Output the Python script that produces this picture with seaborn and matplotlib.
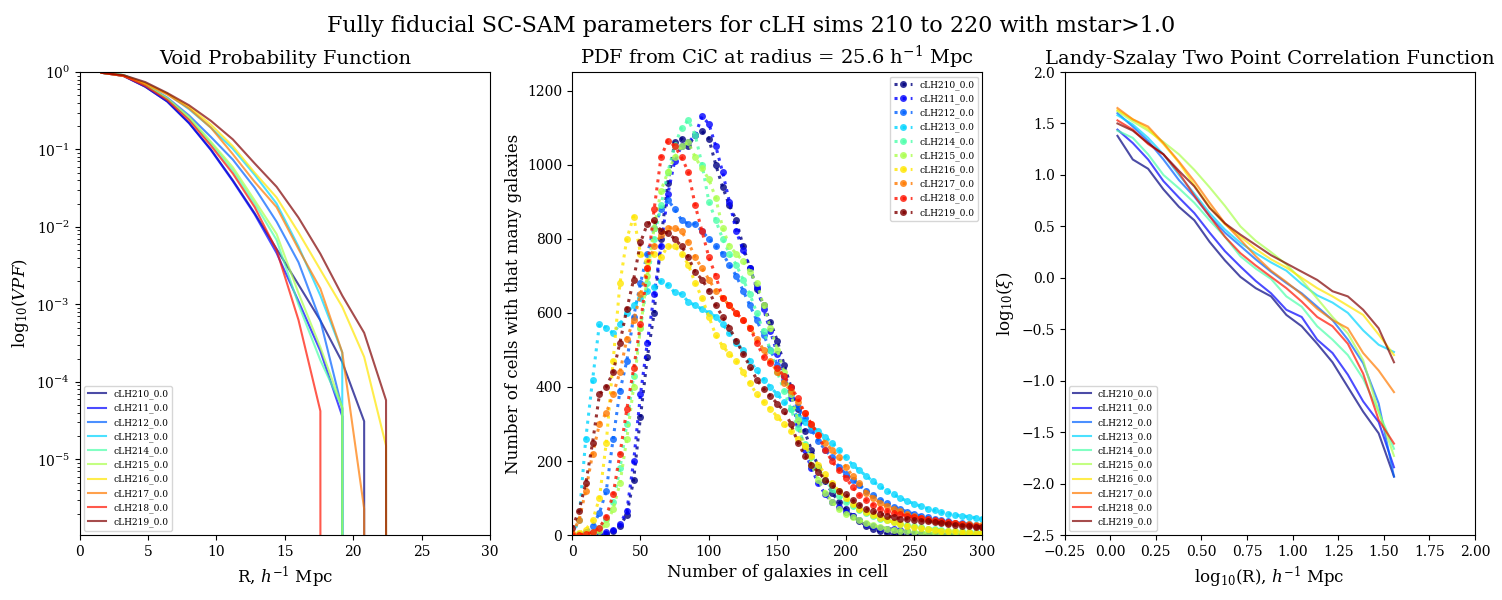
import matplotlib

matplotlib.use("Agg")
import matplotlib.pyplot as plt
import seaborn as sns

plt.rcParams["font.family"] = ["DejaVu Serif"]
plt.rcParams["mathtext.fontset"] = "dejavuserif"

sims = ["cLH210_0.0", "cLH211_0.0", "cLH212_0.0", "cLH213_0.0", "cLH214_0.0",
        "cLH215_0.0", "cLH216_0.0", "cLH217_0.0", "cLH218_0.0", "cLH219_0.0"]

# --- void probability function (0 = no voids of that size)
vpf_r = [1.6, 3.2, 4.8, 6.4, 8.0, 9.6, 11.2, 12.8, 14.4, 16.0, 17.6, 19.2, 20.8, 22.4, 24.0]
vpf_210 = [0.977, 0.891, 0.646, 0.417, 0.219, 0.100, 0.040, 0.015, 5.2e-3, 1.8e-3, 6.2e-4, 1.8e-4, 3.1e-5, 0, 0]
vpf_211 = [0.977, 0.891, 0.646, 0.417, 0.219, 0.098, 0.039, 0.0145, 4.6e-3, 1.1e-3, 2.5e-4, 3.6e-5, 0, 0, 0]
vpf_212 = [0.977, 0.912, 0.692, 0.468, 0.275, 0.145, 0.074, 0.032, 0.0117, 3.5e-3, 6.2e-4, 4.5e-5, 0, 0, 0]
vpf_213 = [0.977, 0.912, 0.724, 0.525, 0.331, 0.191, 0.102, 0.047, 0.020, 5.6e-3, 1.3e-3, 2.4e-4, 0, 0, 0]
vpf_214 = [0.977, 0.912, 0.676, 0.447, 0.251, 0.120, 0.054, 0.020, 6.8e-3, 1.0e-3, 1.9e-4, 4.7e-5, 0, 0, 0]
vpf_215 = [0.977, 0.912, 0.692, 0.457, 0.263, 0.126, 0.059, 0.022, 8.1e-3, 1.4e-3, 2.8e-4, 4.7e-5, 0, 0, 0]
vpf_216 = [0.977, 0.891, 0.708, 0.525, 0.355, 0.209, 0.110, 0.050, 0.024, 8.5e-3, 2.8e-3, 9.3e-4, 2.1e-4, 1.5e-5, 0]
vpf_217 = [0.977, 0.891, 0.708, 0.513, 0.339, 0.191, 0.087, 0.038, 0.018, 5.2e-3, 1.6e-3, 2.4e-4, 2.3e-6, 0, 0]
vpf_218 = [0.977, 0.891, 0.661, 0.437, 0.240, 0.112, 0.049, 0.018, 5.0e-3, 6.3e-4, 4.2e-5, 0, 0, 0, 0]
vpf_219 = [0.977, 0.912, 0.741, 0.537, 0.372, 0.234, 0.135, 0.066, 0.033, 0.0132, 4.5e-3, 1.3e-3, 4.3e-4, 5.8e-5, 0]

# --- counts-in-cells PDF
n_gal = list(range(0, 305, 5))
cic_210 = [0, 0, 0, 0, 2, 4, 10, 25, 55, 150, 320, 480, 600, 800, 950, 1060, 1070, 1050, 1080, 1090,
           1070, 1000, 940, 890, 850, 780, 720, 665, 620, 575, 525, 460, 400, 340, 280, 230, 185, 145,
           115, 90, 70, 52, 38, 26, 17, 10, 6, 3, 2, 1, 0, 0, 0, 0, 0, 0, 0, 0, 0, 0, 0]
cic_211 = [0, 0, 0, 1, 3, 8, 15, 30, 65, 200, 380, 520, 650, 780, 920, 1010, 1050, 1060, 1080, 1130,
           1110, 1050, 980, 900, 820, 770, 720, 670, 610, 550, 490, 430, 370, 300, 230, 180, 140, 110,
           90, 75, 62, 52, 42, 30, 24, 20, 18, 16, 14, 10, 7, 5, 4, 3, 2, 2, 1, 1, 1, 0, 0]
cic_212 = [0, 2, 8, 25, 60, 120, 260, 390, 470, 590, 680, 760, 830, 880, 905, 880, 850, 840, 840, 820,
           800, 780, 760, 730, 700, 660, 620, 580, 540, 500, 460, 420, 380, 345, 315, 285, 255, 230,
           210, 185, 165, 150, 135, 120, 108, 96, 86, 77, 70, 63, 57, 52, 48, 44, 40, 37, 34, 32, 30, 28, 26]
cic_213 = [0, 40, 260, 420, 570, 560, 545, 570, 600, 620, 640, 660, 670, 685, 675, 655, 650, 630, 620, 610,
           600, 590, 570, 545, 520, 500, 470, 445, 420, 400, 380, 360, 340, 320, 305, 295, 280, 265,
           250, 230, 210, 190, 175, 160, 145, 132, 120, 110, 100, 92, 85, 78, 72, 67, 62, 58, 55, 52, 50, 47, 45]
cic_214 = [0, 0, 3, 8, 20, 45, 90, 180, 300, 430, 560, 680, 800, 890, 980, 1050, 1100, 1120, 1080, 1000,
           900, 850, 800, 760, 730, 690, 650, 600, 550, 500, 440, 390, 340, 290, 245, 210, 180, 150,
           125, 105, 90, 78, 68, 60, 52, 45, 40, 35, 30, 27, 24, 21, 18, 16, 14, 12, 11, 10, 9, 8, 7]
cic_215 = [0, 0, 2, 5, 12, 30, 70, 140, 260, 400, 560, 700, 830, 930, 980, 1020, 1050, 1060, 1020, 990,
           960, 910, 830, 780, 760, 740, 710, 680, 620, 560, 500, 440, 380, 310, 240, 190, 150, 115,
           90, 70, 58, 48, 40, 33, 27, 22, 18, 15, 12, 10, 8, 7, 6, 5, 4, 3, 3, 2, 2, 1, 1]
cic_216 = [2, 5, 15, 40, 100, 250, 470, 680, 800, 860, 760, 740, 760, 750, 780, 780, 760, 730, 680, 640,
           590, 540, 510, 490, 470, 440, 410, 380, 360, 340, 320, 300, 280, 260, 240, 215, 190, 165,
           140, 120, 100, 85, 72, 62, 54, 47, 40, 35, 30, 26, 22, 19, 16, 14, 12, 11, 10, 9, 8, 7, 6]
cic_217 = [5, 40, 120, 220, 300, 330, 380, 440, 530, 580, 650, 720, 780, 810, 830, 830, 820, 790, 750, 720,
           690, 660, 640, 620, 600, 580, 560, 530, 500, 470, 440, 410, 390, 360, 330, 300, 270, 250,
           230, 210, 185, 160, 140, 115, 100, 88, 78, 70, 64, 58, 52, 47, 42, 39, 36, 34, 32, 30, 29, 28, 27]
cic_218 = [0, 1, 3, 8, 20, 50, 110, 220, 340, 450, 570, 720, 880, 1020, 1065, 1050, 1020, 980, 890, 820,
           750, 700, 640, 620, 600, 580, 560, 520, 480, 465, 450, 430, 400, 370, 330, 300, 270, 230,
           200, 175, 155, 130, 108, 94, 82, 72, 65, 60, 56, 52, 49, 46, 44, 41, 38, 35, 32, 29, 27, 25, 22]
cic_219 = [20, 65, 140, 250, 380, 400, 440, 520, 610, 690, 790, 840, 850, 820, 815, 800, 780, 750, 710, 690,
           660, 620, 590, 560, 525, 490, 455, 420, 395, 375, 355, 335, 300, 250, 215, 190, 170, 150,
           135, 120, 110, 95, 82, 72, 64, 58, 53, 48, 45, 43, 41, 39, 37, 35, 32, 30, 28, 26, 25, 23, 22]

# --- Landy-Szalay 2PCF, log10(xi) vs log10(R)
log_r = [0.04, 0.124, 0.208, 0.292, 0.377, 0.461, 0.545, 0.629, 0.714, 0.798,
         0.882, 0.966, 1.050, 1.135, 1.219, 1.303, 1.387, 1.472, 1.556]
xi_210 = [1.38, 1.15, 1.06, 0.86, 0.69, 0.56, 0.35, 0.17, 0.01, -0.10, -0.18, -0.36, -0.47, -0.64, -0.82, -1.06, -1.30, -1.51, -1.93]
xi_211 = [1.44, 1.31, 1.15, 0.94, 0.78, 0.63, 0.44, 0.26, 0.11, -0.03, -0.15, -0.31, -0.38, -0.60, -0.73, -0.94, -1.20, -1.40, -1.84]
xi_212 = [1.60, 1.47, 1.33, 1.15, 0.95, 0.79, 0.60, 0.44, 0.31, 0.18, 0.06, -0.05, -0.15, -0.28, -0.41, -0.60, -0.83, -1.22, -1.93]
xi_213 = [1.58, 1.49, 1.36, 1.20, 1.00, 0.82, 0.63, 0.47, 0.34, 0.24, 0.15, 0.07, -0.06, -0.17, -0.24, -0.34, -0.51, -0.65, -0.72]
xi_214 = [1.43, 1.36, 1.20, 1.00, 0.87, 0.73, 0.56, 0.40, 0.21, 0.09, -0.01, -0.18, -0.28, -0.47, -0.60, -0.75, -0.98, -1.30, -1.66]
xi_215 = [1.62, 1.52, 1.43, 1.32, 1.20, 1.05, 0.88, 0.70, 0.50, 0.36, 0.25, 0.13, -0.02, -0.20, -0.38, -0.54, -0.80, -1.30, -1.73]
xi_216 = [1.63, 1.54, 1.45, 1.30, 1.12, 0.90, 0.69, 0.52, 0.40, 0.28, 0.18, 0.10, 0.00, -0.10, -0.18, -0.27, -0.36, -0.55, -0.75]
xi_217 = [1.65, 1.54, 1.47, 1.31, 1.13, 0.94, 0.73, 0.53, 0.37, 0.21, 0.07, -0.04, -0.16, -0.30, -0.41, -0.49, -0.73, -0.90, -1.11]
xi_218 = [1.53, 1.44, 1.30, 1.20, 1.02, 0.80, 0.60, 0.40, 0.24, 0.12, 0.01, -0.10, -0.23, -0.38, -0.47, -0.64, -0.93, -1.38, -1.61]
xi_219 = [1.50, 1.43, 1.31, 1.20, 1.04, 0.89, 0.68, 0.53, 0.42, 0.32, 0.22, 0.14, 0.06, -0.02, -0.13, -0.18, -0.31, -0.49, -0.82]

vpf_all = [vpf_210, vpf_211, vpf_212, vpf_213, vpf_214, vpf_215, vpf_216, vpf_217, vpf_218, vpf_219]
cic_all = [cic_210, cic_211, cic_212, cic_213, cic_214, cic_215, cic_216, cic_217, cic_218, cic_219]
xi_all = [xi_210, xi_211, xi_212, xi_213, xi_214, xi_215, xi_216, xi_217, xi_218, xi_219]
colors = [plt.cm.jet(i / (len(sims) - 1)) for i in range(len(sims))]

fig, axes = plt.subplots(1, 3, figsize=(15.02, 6), dpi=100)
fig.subplots_adjust(left=0.053, right=0.982, top=0.88, bottom=0.108, wspace=0.2)
ax_vpf, ax_cic, ax_xi = axes

# VPF
ax_vpf.set_yscale("log")
for name, vals, c in zip(sims, vpf_all, colors):
    sns.lineplot(x=vpf_r, y=vals, ax=ax_vpf, color=c, alpha=0.7, lw=1.5,
                 label=name, sort=False, estimator=None)
ax_vpf.set_xlim(0, 30)
ax_vpf.set_ylim(1.05e-6, 1)
ax_vpf.set_title("Void Probability Function", fontsize=14)
ax_vpf.set_xlabel("R, $h^{-1}$ Mpc", fontsize=12)
ax_vpf.set_ylabel("log$_{10}$($VPF$)", fontsize=12)
ax_vpf.legend(loc="lower left", fontsize=6.5)

# CiC PDF
for name, vals, c in zip(sims, cic_all, colors):
    sns.lineplot(x=n_gal, y=vals, ax=ax_cic, color=c, alpha=0.8, lw=2.2, linestyle=":",
                 marker="o", markersize=5, markeredgewidth=0, markeredgecolor=c,
                 label=name, sort=False, estimator=None)
ax_cic.set_xlim(0, 300)
ax_cic.set_ylim(0, 1250)
ax_cic.set_title("PDF from CiC at radius = 25.6 h$^{-1}$ Mpc", fontsize=14)
ax_cic.set_xlabel("Number of galaxies in cell", fontsize=12)
ax_cic.set_ylabel("Number of cells with that many galaxies", fontsize=12)
ax_cic.legend(loc="upper right", fontsize=6.5)

# 2PCF
for name, vals, c in zip(sims, xi_all, colors):
    sns.lineplot(x=log_r, y=vals, ax=ax_xi, color=c, alpha=0.7, lw=1.5,
                 label=name, sort=False, estimator=None)
ax_xi.set_xlim(-0.25, 2.0)
ax_xi.set_ylim(-2.5, 2.0)
ax_xi.set_xticks([-0.25, 0.0, 0.25, 0.5, 0.75, 1.0, 1.25, 1.5, 1.75, 2.0])
ax_xi.set_title("Landy-Szalay Two Point Correlation Function", fontsize=14)
ax_xi.set_xlabel("log$_{10}$(R), $h^{-1}$ Mpc", fontsize=12)
ax_xi.set_ylabel(r"log$_{10}$($\xi$)", fontsize=12)
ax_xi.legend(loc="lower left", fontsize=6.5)

fig.suptitle("Fully fiducial SC-SAM parameters for cLH sims 210 to 220 with mstar>1.0",
             fontsize=16, y=0.975)
fig.savefig("out.png", dpi=100)
plt.close(fig)
